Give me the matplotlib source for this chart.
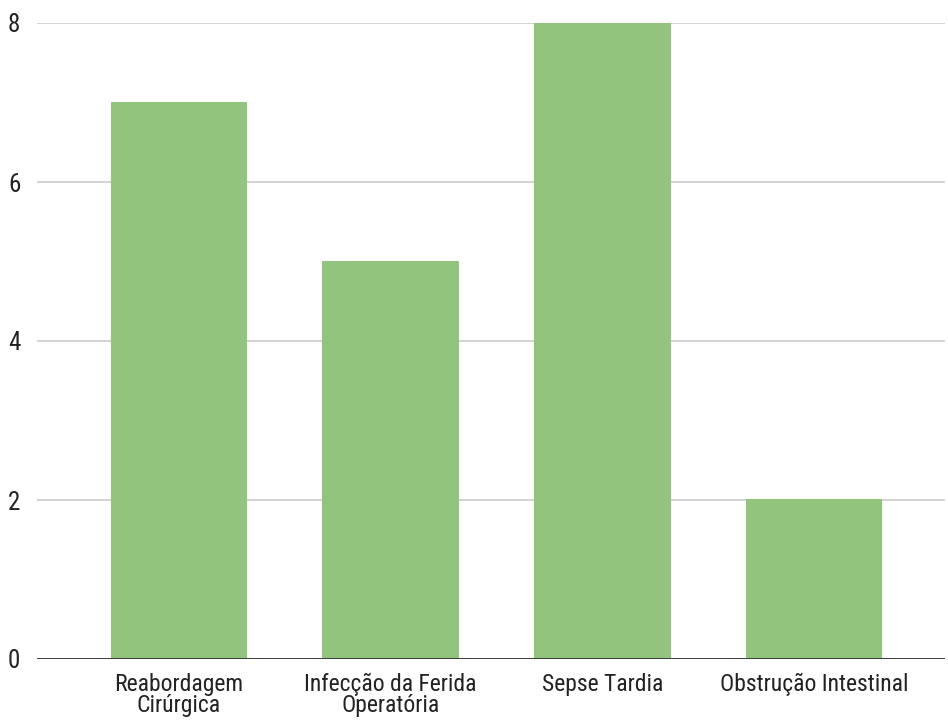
import matplotlib
matplotlib.use("Agg")
import matplotlib.pyplot as plt
from matplotlib import font_manager

categories = ["Reabordagem\nCirúrgica", "Infecção da Ferida\nOperatória", "Sepse Tardia", "Obstrução Intestinal"]
values = [7, 5, 8, 2]
yticks = [0, 2, 4, 6, 8]

available = {f.name for f in font_manager.fontManager.ttflist}
family = [f for f in ["Liberation Sans Narrow", "Roboto Condensed", "Liberation Sans", "DejaVu Sans"] if f in available]
plt.rcParams["font.family"] = family

fig = plt.figure(figsize=(9.48, 7.22), dpi=100)
ax = fig.add_axes([37 / 948, (722 - 659) / 722, (945 - 37) / 948, (659 - 23) / 722])

x = list(range(len(categories)))
bars = ax.bar(x, values, width=0.636, color="#93c47d", edgecolor="#93c47d",
              linewidth=1.5, zorder=3)
for b in bars:
    b.set_joinstyle("round")

ax.set_xlim(-0.671, 3.619)
ax.set_ylim(0, 8)
ax.set_yticks(yticks)
ax.set_yticklabels([str(v) for v in yticks], fontsize=18, color="#222222")
ax.set_xticks(x)
ax.set_xticklabels(categories, fontsize=17, color="#222222", linespacing=0.9)

ax.grid(axis="y", color="#cccccc", linewidth=1.2, zorder=0)
ax.axhline(0, color="#333333", linewidth=1.3, zorder=4)
for s in ax.spines.values():
    s.set_visible(False)
ax.tick_params(axis="both", length=0)
ax.tick_params(axis="y", pad=12)
ax.tick_params(axis="x", pad=10)

fig.savefig("out.png", dpi=100)
